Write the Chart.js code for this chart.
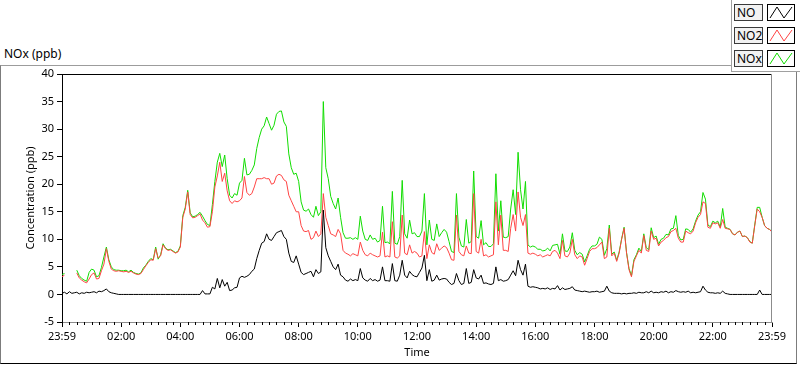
<!DOCTYPE html>
<html>
<head>
<meta charset="utf-8">
<title>NOx (ppb)</title>
<script src="https://cdn.jsdelivr.net/npm/chart.js@4.4.1/dist/chart.umd.min.js"></script>
<style>
  html, body { margin: 0; padding: 0; background: #fff; }
  body { width: 800px; height: 365px; position: relative; overflow: hidden; font-family: 'Noto Sans', sans-serif; }
  #panel { position: absolute; left: 0; top: 65px; width: 797px; height: 299px; box-sizing: border-box;
           border-top: 1px solid #9c9c9c; border-left: 1px solid #7c7c7c; border-right: 1px solid #7c7c7c; border-bottom: 1px solid #000; }
  #title { position: absolute; left: 4px; top: 47px; font-size: 12px; line-height: 14px; color: #000; }
  #chart { position: absolute; left: 0; top: 0; z-index: 1; }
  #legend { position: absolute; left: 731px; top: 0; width: 69px; height: 72px; box-sizing: border-box; background: #fff;
            border-left: 1px solid #a0a0a0; border-bottom: 1px solid #a0a0a0; z-index: 2; }
  .lg-name { position: absolute; left: 2px; width: 29px; height: 17px; box-sizing: border-box; border: 1px solid #3a3a3a;
             background: #f2f2f2; font-size: 12px; line-height: 15px; padding-left: 2px; color: #000; }
  .lg-icon { position: absolute; left: 35px; width: 28px; height: 17px; box-sizing: border-box; border: 1px solid #000; background: #fff; }
  .lg-icon svg { display: block; }
</style>
</head>
<body>
<div id="panel"></div>
<div id="title">NOx (ppb)</div>
<canvas id="chart" width="800" height="365"></canvas>
<div id="legend"></div>
<script>
// one sample every 5 minutes, starting 23:59
const STEP_MIN = 5;
const timeLabels = ['23:59', '02:00', '04:00', '06:00', '08:00', '10:00', '12:00',
                    '14:00', '16:00', '18:00', '20:00', '22:00', '23:59'];
const seriesNames = ['NO', 'NO2', 'NOx'];
const seriesColors = ['#000000', '#ff4444', '#11dd00'];

// NO (ppb), one row per hour
const noSeries = [
  0.2, 0.4, 0.1, 0.5, 0.2, 0.3, 0.4, 0.1, 0.3, 0.2, 0.4, 0.3,
  0.4, 0.5, 0.3, 0.6, 0.5, 0.7, 1.0, 0.5, 0.3, 0.2, 0.1, 0.0,
  0, 0, 0, 0, 0, 0, 0, 0, 0, 0, 0, 0,
  0, 0, 0, 0, 0, 0, 0, 0, 0, 0, 0, 0,
  0, 0, 0, 0, 0, 0, 0, 0, 0, 0.7, 0.1, 0.1,
  0.1, 1.3, 1.0, 2.9, 1.2, 2.7, 1.5, 2.2, 0.7, 0.8, 1.2, 1.3,
  3.0, 3.3, 3.1, 3.3, 3.6, 4.2, 4.6, 6.5, 8.0, 9.3, 9.6, 11.0,
  10.0, 9.8, 10.5, 11.2, 11.4, 11.6, 10.5, 10.0, 7.5, 6.0, 5.8, 7.0,
  5.5, 4.0, 3.6, 3.8, 4.0, 4.2, 3.2, 4.5, 3.8, 4.1, 15.3, 8.5,
  7.0, 6.0, 5.0, 4.5, 5.5, 3.5, 3.2, 2.6, 2.4, 2.8, 2.5, 2.7,
  2.5, 4.7, 3.0, 2.6, 2.4, 2.9, 2.5, 2.7, 2.4, 2.6, 5.0, 2.5,
  2.5, 2.4, 5.6, 2.5, 2.4, 3.5, 6.2, 3.5, 3.0, 4.2, 3.6, 3.3,
  3.2, 4.0, 4.8, 7.1, 2.5, 4.5, 2.4, 2.6, 3.5, 2.6, 2.8, 2.9,
  2.8, 2.2, 1.8, 2.0, 3.8, 2.5, 1.8, 2.0, 4.7, 2.0, 2.2, 4.5,
  3.0, 2.8, 3.5, 2.0, 2.1, 1.9, 1.8, 2.0, 5.0, 2.5, 2.7, 2.4,
  2.5, 2.7, 3.5, 4.3, 3.4, 6.2, 4.5, 3.5, 5.5, 1.5, 1.3, 1.4,
  1.3, 1.2, 1.0, 1.1, 1.0, 1.2, 0.9, 1.1, 1.0, 1.6, 0.8, 1.2,
  0.9, 1.0, 1.1, 1.4, 0.8, 0.7, 0.6, 0.5, 0.6, 0.5, 0.4, 0.5,
  0.5, 0.6, 0.4, 0.5, 0.6, 1.5, 0.6, 0.3, 0.2, 0.2, 0.2, 0.1,
  0.2, 0.1, 0.2, 0.2, 0.3, 0.2, 0.4, 0.3, 0.3, 0.5, 0.3, 0.6,
  0.3, 0.4, 0.3, 0.5, 0.4, 0.6, 0.3, 0.5, 0.4, 0.7, 0.5, 0.4,
  0.5, 0.4, 0.6, 0.3, 0.4, 0.3, 0.4, 0.5, 1.5, 0.8, 0.4, 0.3,
  0.3, 0.2, 0.3, 0.2, 0.6, 0.2, 0.1, 0, 0, 0, 0, 0,
  0, 0, 0, 0, 0, 0, 0, 0.8, 0, 0, 0, 0,
  0
];

// NO2 (ppb)
const no2Series = [
  3.2, 3.5, null, null, null, null, 3.9, 3.0, 2.6, 2.3, 2.1, 2.8,
  3.6, 3.9, 2.8, 2.9, 4.3, 5.5, 8.3, 6.0, 4.6, 4.3, 4.2, 4.3,
  4.2, 4.1, 4.2, 4.0, 4.2, 3.9, 3.7, 3.6, 3.8, 4.5, 5.2, 5.8,
  6.3, 6.2, 8.3, 6.6, 7.0, 9.0, 8.3, 8.0, 8.1, 7.8, 7.5, 7.7,
  8.6, 14.0, 15.5, 18.6, 14.5, 13.9, 14.0, 14.3, 14.6, 13.5, 13.0, 12.2,
  12.3, 15.0, 19.5, 21.5, 24.0, 20.5, 22.0, 18.8, 17.0, 16.5, 17.0, 16.8,
  17.0, 17.5, 21.4, 18.5, 18.0, 18.3, 19.5, 21.0, 21.0, 21.0, 21.2, 21.0,
  21.0, 20.0, 20.2, 21.5, 21.8, 21.6, 20.8, 20.5, 18.0, 17.0, 16.0, 15.0,
  15.0, 12.5, 11.5, 11.4, 11.6, 10.0, 10.3, 11.5, 10.5, 11.0, 18.3, 14.0,
  12.5, 11.0, 10.8, 10.5, 11.8, 11.0, 8.0, 7.5, 7.3, 7.0, 7.4, 7.2,
  7.0, 9.5, 8.0, 7.2, 7.0, 7.5, 7.2, 7.0, 6.8, 7.0, 11.3, 6.8,
  7.0, 6.8, 13.2, 6.8, 6.6, 7.0, 14.4, 7.5, 7.2, 9.0, 7.5, 7.8,
  7.5, 6.8, 7.0, 11.4, 6.5, 9.0, 7.6, 7.3, 9.2, 8.0, 8.4, 8.8,
  8.5, 7.5, 6.3, 6.2, 14.4, 7.8, 7.2, 7.0, 8.8, 7.5, 7.4, 18.3,
  7.8, 7.5, 10.0, 7.0, 7.2, 6.8, 7.0, 7.2, 16.8, 9.0, 14.4, 8.0,
  8.0, 7.8, 12.0, 14.5, 11.5, 18.6, 14.0, 12.5, 14.5, 7.5, 7.3, 7.5,
  7.3, 7.0, 7.2, 6.8, 7.0, 7.2, 7.0, 7.8, 8.0, 7.5, 6.5, 9.8,
  7.0, 6.8, 7.5, 10.0, 7.2, 6.5, 7.0, 6.8, 5.3, 6.5, 7.8, 8.3,
  8.3, 8.5, 9.0, 9.5, 6.5, 6.8, 12.0, 7.0, 7.5, 6.0, 7.5, 10.0,
  12.0, 7.5, 4.5, 3.2, 6.0, 7.0, 8.0, 7.5, 10.7, 8.0, 7.8, 11.5,
  10.0, 10.2, 8.8, 9.5, 9.8, 10.3, 10.5, 11.4, 11.6, 12.0, 10.2, 9.5,
  9.5, 11.5, 11.2, 11.0, 11.5, 13.0, 14.0, 14.5, 16.8, 16.5, 12.2, 12.0,
  13.0, 12.8, 13.0, 12.0, 13.6, 12.0, 11.9, 11.8, 11.0, 10.8, 11.3, 11.5,
  10.5, 10.6, 10.3, 9.5, 9.3, 12.5, 15.5, 15.0, 14.0, 12.5, 12.0, 11.8,
  11.3
];

// NOx (ppb)
const noxSeries = [
  3.6, 3.8, null, null, null, null, 4.4, 3.4, 2.9, 2.6, 2.4, 4.0,
  4.6, 4.4, 3.2, 3.4, 4.9, 6.8, 8.6, 6.3, 5.0, 4.5, 4.4, 4.4,
  4.3, 4.3, 4.4, 4.1, 4.4, 4.0, 3.8, 3.7, 3.9, 4.8, 5.3, 6.0,
  6.5, 6.3, 8.6, 6.4, 7.2, 9.2, 8.4, 8.1, 8.2, 7.9, 7.6, 7.8,
  8.8, 14.3, 15.8, 18.9, 14.8, 14.1, 14.2, 14.5, 14.9, 14.2, 13.4, 12.7,
  12.5, 16.3, 20.5, 24.0, 25.6, 23.2, 25.3, 21.0, 18.0, 17.5, 18.3, 18.0,
  20.2, 20.7, 24.7, 21.7, 21.8, 22.5, 23.5, 26.5, 28.5, 30.0, 30.6, 32.2,
  31.0, 29.8, 30.7, 32.7, 33.2, 33.3, 31.3, 30.5, 25.5, 23.0, 21.8, 22.0,
  20.5, 16.8, 15.3, 15.1, 15.5, 14.5, 14.0, 16.0, 14.3, 15.0, 35.0, 23.0,
  21.0, 17.8, 16.5, 15.5, 17.5, 14.0, 11.2, 10.2, 10.2, 10.3, 10.0, 10.3,
  10.0, 14.2, 11.5, 10.0, 9.8, 10.8, 10.0, 10.2, 9.5, 9.8, 16.0, 9.4,
  9.5, 9.2, 18.7, 9.3, 9.1, 10.5, 20.7, 11.0, 10.2, 13.5, 11.0, 11.2,
  10.5, 10.5, 11.5, 18.3, 9.0, 13.5, 10.0, 9.8, 12.8, 10.5, 11.2, 11.8,
  11.3, 9.6, 7.8, 7.6, 18.3, 10.4, 8.8, 8.6, 13.6, 9.3, 9.6, 22.4,
  10.5, 10.2, 13.4, 9.0, 9.4, 8.7, 8.7, 9.2, 21.9, 11.5, 17.0, 10.4,
  10.3, 10.5, 15.5, 19.0, 14.5, 25.8, 19.0, 15.5, 20.5, 9.0, 8.6, 8.8,
  8.6, 8.2, 8.2, 7.9, 8.0, 8.4, 7.9, 8.9, 9.0, 9.1, 7.3, 11.0,
  7.9, 7.8, 8.6, 11.2, 8.0, 7.2, 7.6, 7.3, 5.9, 7.0, 8.2, 8.8,
  8.8, 9.1, 10.4, 10.0, 7.1, 8.3, 12.6, 7.3, 7.7, 6.2, 7.7, 10.1,
  12.2, 7.6, 4.7, 3.4, 6.3, 7.2, 8.4, 7.8, 11.0, 8.5, 8.1, 12.1,
  10.3, 10.6, 9.1, 10.0, 10.2, 10.9, 10.8, 11.9, 12.0, 14.3, 10.7, 9.9,
  10.0, 11.9, 11.8, 11.3, 11.9, 13.3, 14.4, 15.0, 18.5, 17.3, 12.6, 12.3,
  13.3, 13.0, 13.3, 12.2, 15.6, 12.2, 12.0, 11.8, 11.0, 10.8, 11.3, 11.5,
  10.5, 10.6, 10.3, 9.6, 9.3, 12.6, 15.8, 15.8, 14.0, 12.5, 12.0, 11.8,
  11.4
];

const toPoints = vals => vals.map((v, i) => ({ x: i * STEP_MIN, y: v }));

// frame lines LabVIEW style + 15 minute minor ticks under the x axis
const framePlugin = {
  id: 'frame',
  afterDraw(chart) {
    const { ctx, chartArea: a } = chart;
    const xs = chart.scales.x;
    ctx.save();
    ctx.lineWidth = 1;
    ctx.strokeStyle = '#000';
    ctx.beginPath();
    ctx.moveTo(a.left, a.top + 0.5);
    ctx.lineTo(a.right, a.top + 0.5);
    ctx.stroke();
    ctx.strokeStyle = '#8c8c8c';
    ctx.beginPath();
    ctx.moveTo(a.right - 0.5, a.top);
    ctx.lineTo(a.right - 0.5, a.bottom);
    ctx.stroke();
    ctx.strokeStyle = '#000';
    ctx.beginPath();
    for (let m = 15; m < xs.max; m += 15) {
      if (m % 120 === 0) continue;
      const px = Math.round(xs.getPixelForValue(m)) + 0.5;
      ctx.moveTo(px, a.bottom);
      ctx.lineTo(px, a.bottom + 3);
    }
    ctx.stroke();
    ctx.restore();
  }
};

Chart.defaults.font.family = "'Noto Sans', sans-serif";
Chart.defaults.font.size = 11;
Chart.defaults.color = '#000';

const allSeries = [noSeries, no2Series, noxSeries];

new Chart(document.getElementById('chart'), {
  type: 'line',
  data: {
    datasets: allSeries.map((vals, i) => ({
      label: seriesNames[i],
      data: toPoints(vals),
      borderColor: seriesColors[i],
      borderWidth: 1,
      pointRadius: 0,
      tension: 0,
      spanGaps: false
    }))
  },
  options: {
    responsive: false,
    animation: false,
    devicePixelRatio: 1,
    layout: { padding: { left: 20, right: 28, top: 74, bottom: 2 } },
    plugins: { legend: { display: false }, tooltip: { enabled: false } },
    scales: {
      x: {
        type: 'linear',
        min: 0,
        max: 1440,
        afterFit: s => { s.height = 41; },
        ticks: {
          stepSize: 120,
          autoSkip: false,
          maxRotation: 0,
          padding: 3,
          callback: v => timeLabels[v / 120]
        },
        grid: { drawOnChartArea: false, tickLength: 5, tickColor: '#000' },
        border: { color: '#8c8c8c' },
        title: { display: true, text: 'Time', padding: { top: 0, bottom: 4 } }
      },
      y: {
        min: -5,
        max: 40,
        afterFit: s => { s.width = 42; },
        ticks: { stepSize: 5, padding: 3 },
        grid: { drawOnChartArea: false, tickLength: 5, tickColor: '#000' },
        border: { color: '#000' },
        title: { display: true, text: 'Concentration (ppb)', padding: { top: 4, bottom: 0 } }
      }
    }
  },
  plugins: [framePlugin]
});

// legend boxes
const legend = document.getElementById('legend');
seriesNames.forEach((name, i) => {
  const top = 4 + i * 23;
  const label = document.createElement('div');
  label.className = 'lg-name';
  label.style.top = top + 'px';
  label.textContent = name;
  const icon = document.createElement('div');
  icon.className = 'lg-icon';
  icon.style.top = top + 'px';
  icon.innerHTML = '<svg width="26" height="15"><polyline points="2,13 9,2 16,13 24,2" fill="none" stroke="' +
    seriesColors[i] + '" stroke-width="1"/></svg>';
  legend.appendChild(label);
  legend.appendChild(icon);
});
</script>
</body>
</html>
